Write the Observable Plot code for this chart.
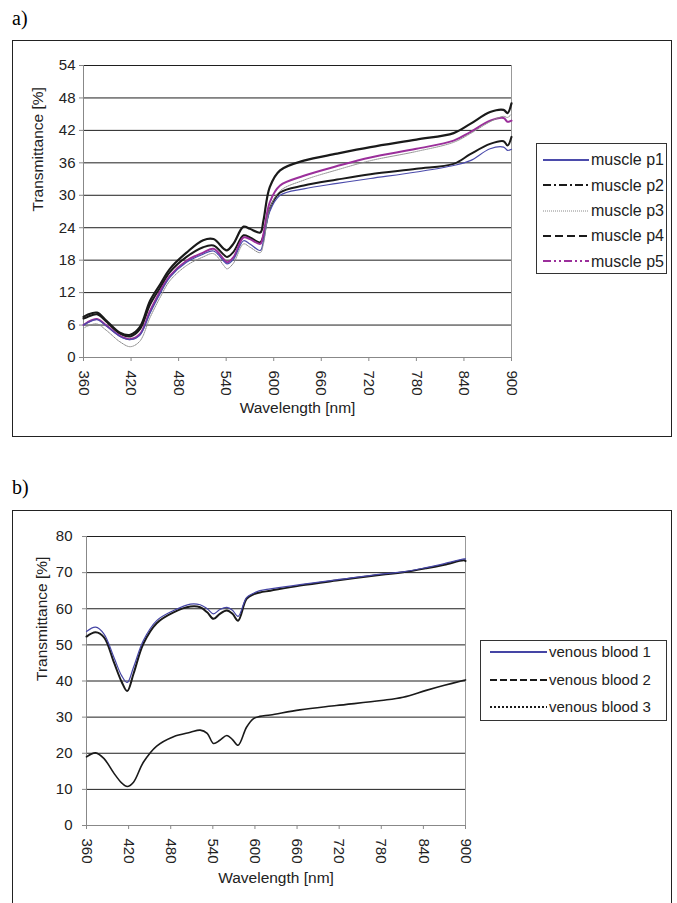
<!DOCTYPE html>
<html><head><meta charset="utf-8">
<script src="https://cdn.jsdelivr.net/npm/d3@7"></script>
<script src="https://cdn.jsdelivr.net/npm/@observablehq/plot@0.6"></script>
<style>
body{margin:0;background:#fff;}
#page{position:relative;width:677px;height:903px;overflow:hidden;font-family:"Liberation Sans",Arial,sans-serif;color:#222;}
.panel-label{position:absolute;font-family:"Liberation Serif","Times New Roman",serif;font-size:20px;line-height:20px;color:#000;}
.box{position:absolute;border:1px solid #222;box-sizing:border-box;}
.chart{position:absolute;}
.legend{position:absolute;border:1px solid #333;box-sizing:border-box;background:#fff;}
.legend .item{position:absolute;white-space:nowrap;}
.legend svg{position:absolute;overflow:visible;}
</style></head>
<body>
<div id="page">
  <div class="panel-label" style="left:12px;top:8px;">a)</div>
  <div class="box" style="left:12px;top:40px;width:660px;height:397px;"></div>
  <div class="panel-label" style="left:12px;top:477px;">b)</div>
  <div class="box" style="left:12px;top:510px;width:660px;height:420px;"></div>
  <div id="chartA" class="chart" style="left:12px;top:40px;"></div>
  <div id="chartB" class="chart" style="left:12px;top:510px;"></div>
  <div id="legendA" class="legend" style="left:536px;top:143px;width:131px;height:131px;"></div>
  <div id="legendB" class="legend" style="left:480px;top:640px;width:187px;height:81px;"></div>
</div>
<script>
// ---------- Panel a data (muscle) ----------
const waveA = [360, 365, 377, 389, 406, 419, 431, 444, 457, 469, 490, 511, 524, 537, 541, 549, 562, 570, 583, 587, 595, 608, 638, 680, 722, 780, 827, 848, 873, 890, 895, 900];
const muscleP1 = [6.0, 6.4, 7.0, 5.8, 3.9, 3.3, 4.1, 8.2, 11.9, 14.8, 17.6, 19.1, 19.7, 17.8, 17.3, 18.1, 21.6, 21.0, 19.8, 21.5, 27.0, 30.0, 31.2, 32.2, 33.1, 34.3, 35.5, 36.4, 38.6, 38.9, 38.3, 38.5];
const muscleP2 = [7.2, 7.5, 8.0, 6.6, 4.4, 3.9, 5.2, 9.8, 13.0, 15.8, 18.6, 20.4, 20.7, 19.0, 18.6, 19.5, 22.6, 22.2, 21.3, 22.5, 27.5, 30.5, 31.8, 32.9, 33.9, 34.9, 35.8, 37.6, 39.5, 40.0, 39.2, 40.8];
const muscleP3 = [5.4, 5.8, 6.2, 5.0, 2.9, 2.0, 3.0, 7.4, 11.2, 14.2, 17.0, 18.6, 19.2, 17.0, 16.4, 17.4, 21.0, 20.4, 19.4, 21.0, 27.5, 30.8, 32.8, 34.7, 36.4, 38.1, 39.8, 41.4, 43.6, 44.6, 44.4, 45.0];
const muscleP4 = [7.5, 7.9, 8.3, 6.8, 4.6, 4.2, 5.6, 10.5, 13.6, 16.4, 19.4, 21.7, 21.9, 20.1, 19.8, 21.0, 24.2, 23.8, 23.1, 25.3, 31.5, 34.6, 36.4, 37.7, 38.9, 40.3, 41.5, 43.2, 45.4, 45.8, 45.2, 47.0];
const muscleP5 = [6.0, 6.5, 7.1, 5.9, 4.0, 3.4, 4.3, 8.6, 12.3, 15.1, 17.9, 19.4, 20.1, 18.2, 17.6, 18.5, 22.2, 21.9, 21.0, 22.8, 28.7, 31.8, 33.6, 35.4, 37.0, 38.6, 40.1, 41.7, 43.8, 44.3, 43.6, 43.8];
const seriesNamesA = ["muscle p1", "muscle p2", "muscle p3", "muscle p4", "muscle p5"];
const yTicksA = [0, 6, 12, 18, 24, 30, 36, 42, 48, 54];

// ---------- Panel b data (venous blood) ----------
const waveB = [360, 373, 385, 399, 410, 418, 427, 441, 460, 484, 508, 522, 532, 541, 550, 560, 568, 576, 588, 598, 607, 622, 664, 716, 780, 811, 844, 870, 898, 900];
const venous1 = [53.7, 54.9, 53.0, 46.6, 41.5, 39.6, 43.8, 51.2, 56.7, 59.5, 61.3, 61.1, 60.0, 58.6, 59.8, 60.4, 59.6, 57.9, 63.1, 64.3, 65.0, 65.5, 66.7, 68.0, 69.6, 70.2, 71.4, 72.5, 73.8, 73.8];
const venous2 = [52.3, 53.5, 52.1, 45.2, 39.8, 37.2, 42.0, 50.3, 56.0, 59.0, 60.6, 60.4, 59.0, 57.2, 58.6, 59.5, 58.6, 56.7, 62.7, 64.0, 64.5, 65.0, 66.4, 67.8, 69.4, 70.1, 71.2, 72.2, 73.4, 73.2];
const venous3 = [19.0, 20.1, 18.5, 14.5, 11.8, 10.8, 12.0, 17.5, 22.0, 24.6, 25.8, 26.4, 25.5, 22.7, 23.6, 24.9, 23.8, 22.2, 27.2, 29.6, 30.2, 30.6, 32.0, 33.2, 34.6, 35.5, 37.4, 38.8, 40.2, 40.3];
const seriesNamesB = ["venous blood 1", "venous blood 2", "venous blood 3"];
const yTicksB = [0, 10, 20, 30, 40, 50, 60, 70, 80];

const xTicks = [360, 420, 480, 540, 600, 660, 720, 780, 840, 900];
const xLabel = "Wavelength [nm]";
const yLabel = "Transmittance [%]";

// styles per series (not data)
const stylesA = {
  "muscle p1": {stroke: "#4b4bab", strokeWidth: 1.2, dash: null},
  "muscle p2": {stroke: "#1a1a1a", strokeWidth: 2, dash: null, legendDash: "8,3,2,3"},
  "muscle p3": {stroke: "#8a8a8a", strokeWidth: 1, dash: "1,1"},
  "muscle p4": {stroke: "#1a1a1a", strokeWidth: 2.2, dash: null, legendDash: "8,4"},
  "muscle p5": {stroke: "#9b2f9b", strokeWidth: 2, dash: null, legendDash: "8,3,2,3,2,3"}
};
const stylesB = {
  "venous blood 1": {stroke: "#4545a5", strokeWidth: 1.2, dash: null},
  "venous blood 2": {stroke: "#1a1a1a", strokeWidth: 2, dash: null, legendDash: "7,3"},
  "venous blood 3": {stroke: "#1a1a1a", strokeWidth: 1.6, dash: null, legendDash: "2,2"}
};

function tidy(wave, arrays, names) {
  const rows = [];
  names.forEach((n, i) => arrays[i].forEach((v, j) => rows.push({series: n, wavelength: wave[j], value: v})));
  return rows;
}
const rowsA = tidy(waveA, [muscleP1, muscleP2, muscleP3, muscleP4, muscleP5], seriesNamesA);
const rowsB = tidy(waveB, [venous1, venous2, venous3], seriesNamesB);

const font = "Liberation Sans, Arial, sans-serif";

function lineMarks(rows, order, styles) {
  return order.map(n => Plot.line(rows.filter(d => d.series === n), {
    x: "wavelength", y: "value", stroke: styles[n].stroke, strokeWidth: styles[n].strokeWidth,
    strokeDasharray: styles[n].dash || undefined, curve: "catmull-rom"
  }));
}

function makeChart(o) {
  return Plot.plot({
    width: 660, height: o.height,
    marginLeft: o.ml, marginRight: o.mr, marginTop: o.mt, marginBottom: o.mb,
    x: {domain: [360, 900]},
    y: {domain: o.yDomain},
    style: {fontFamily: font, fontSize: "15px", color: "#222", background: "transparent"},
    marks: [
      Plot.gridY(o.yTicks.filter(d => d > 0), {stroke: "#1f1f1f", strokeOpacity: 1, strokeWidth: 1}),
      Plot.ruleX([900], {stroke: "#999"}),
      Plot.ruleX([360], {stroke: "#888"}),
      Plot.ruleY([0], {stroke: "#888"}),
      Plot.axisY(o.yTicks, {tickSize: 4, tickPadding: o.yPad, stroke: "#888", fill: "#222", label: null, fontSize: 15}),
      Plot.axisX(xTicks, {tickSize: 4, tickPadding: 9, tickRotate: 90, stroke: "#888", fill: "#222", label: null, fontSize: 15}),
      ...lineMarks(o.rows, o.order, o.styles),
      Plot.text([xLabel], {text: d => d, frameAnchor: "bottom", dy: o.xLabelDy, fontSize: 15.5, fill: "#222", lineAnchor: "middle"}),
      Plot.text([yLabel], {text: d => d, frameAnchor: "left", dx: o.yLabelDx, rotate: -90, fontSize: 15.5, fill: "#222", lineAnchor: "middle"})
    ]
  });
}

document.getElementById("chartA").appendChild(makeChart({
  height: 397, ml: 71, mr: 161, mt: 25, mb: 80, yDomain: [0, 54], yTicks: yTicksA, yPad: 4,
  rows: rowsA, order: ["muscle p4", "muscle p2", "muscle p5", "muscle p1", "muscle p3"], styles: stylesA,
  xLabelDy: 51, yLabelDx: -45
}));
document.getElementById("chartB").appendChild(makeChart({
  height: 390, ml: 74, mr: 207, mt: 26, mb: 75, yDomain: [0, 80], yTicks: yTicksB, yPad: 10,
  rows: rowsB, order: ["venous blood 3", "venous blood 2", "venous blood 1"], styles: stylesB,
  xLabelDy: 53, yLabelDx: -44
}));

function makeLegend(el, names, styles, o) {
  names.forEach((n, i) => {
    const cy = o.y0 + i * o.step;
    const s = styles[n];
    const ns = "http://www.w3.org/2000/svg";
    const svg = document.createElementNS(ns, "svg");
    svg.setAttribute("width", o.x2 - o.x1);
    svg.setAttribute("height", 6);
    svg.style.left = o.x1 + "px";
    svg.style.top = (cy - 3) + "px";
    const ln = document.createElementNS(ns, "line");
    ln.setAttribute("x1", 0); ln.setAttribute("x2", o.x2 - o.x1);
    ln.setAttribute("y1", 3); ln.setAttribute("y2", 3);
    ln.setAttribute("stroke", s.stroke);
    ln.setAttribute("stroke-width", n.endsWith("p3") ? 1 : 2);
    const dash = s.legendDash || s.dash;
    if (dash) ln.setAttribute("stroke-dasharray", dash);
    svg.appendChild(ln);
    el.appendChild(svg);
    const t = document.createElement("div");
    t.className = "item";
    t.textContent = n;
    t.style.left = o.tx + "px";
    t.style.top = (cy - o.fs * 0.6) + "px";
    t.style.fontSize = o.fs + "px";
    t.style.lineHeight = (o.fs * 1.2) + "px";
    el.appendChild(t);
  });
}
makeLegend(document.getElementById("legendA"), seriesNamesA, stylesA, {y0: 16, step: 25.3, x1: 6, x2: 52, tx: 54, fs: 16});
makeLegend(document.getElementById("legendB"), seriesNamesB, stylesB, {y0: 11, step: 27.5, x1: 9, x2: 66, tx: 68, fs: 15});
</script>
</body></html>
